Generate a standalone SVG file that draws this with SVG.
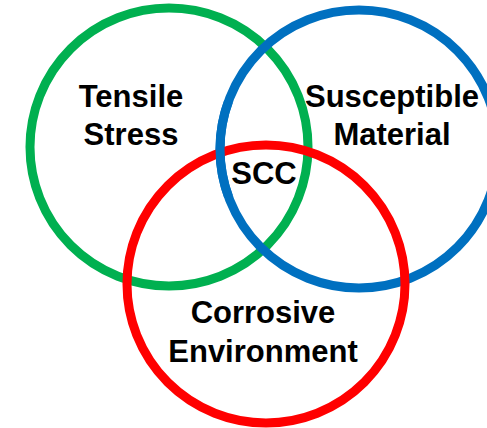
<svg xmlns="http://www.w3.org/2000/svg" width="487" height="428" viewBox="0 0 487 428">
<style>
.c{fill:none;stroke-width:9}
.g{stroke:#00B050}
.b{stroke:#0070C0}
.r{stroke:#FF0000}
text{font-family:"Liberation Sans",Arial,sans-serif;font-weight:bold;font-size:31px;fill:#000;text-anchor:middle}
</style>
<rect width="487" height="428" fill="#fff"/>
<g id="tensile-stress">
<circle class="c g" cx="169" cy="147" r="139"/>
</g>
<g id="susceptible-material">
<circle class="c b" cx="359" cy="149" r="139"/>
</g>
<g id="corrosive-environment">
<circle class="c r" cx="266" cy="284" r="139"/>
</g>
<g id="overlap">
<path class="c b" d="M 228.4 101.5 A 139 139 0 0 0 228.4 196.5"/>
</g>
<g id="labels">
<text x="131" y="106.5">Tensile</text>
<text x="131" y="145">Stress</text>
<text x="392" y="106.5">Susceptible</text>
<text x="392" y="145">Material</text>
<text x="264" y="184.3">SCC</text>
<text x="263" y="323.3">Corrosive</text>
<text x="263" y="361.7">Environment</text>
</g>
<g id="connectors"/>
</svg>
